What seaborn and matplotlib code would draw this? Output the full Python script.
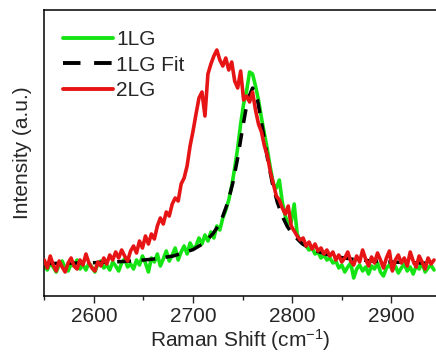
import numpy as np
import pandas as pd
import matplotlib
matplotlib.use("Agg")
import matplotlib.pyplot as plt
import seaborn as sns

# Raman shift grid (cm-1) for the measured spectra
shift = np.arange(2550, 2944, 3)

# 1LG measured intensity (a.u.)
lg1 = [30, 26, 33, 29, 24, 31, 35, 28, 25, 32,
       30, 36, 27, 31, 26, 33, 29, 24, 32, 35,
       28, 31, 26, 34, 30, 25, 33, 37, 29, 32,
       27,
       36, 31, 40, 33, 24, 38, 34, 42, 30, 37,
       45, 35, 41, 48, 36, 44, 50, 42, 53, 47,
       50, 58, 52, 61, 55, 64, 58, 70, 66, 78,
       86, 96, 110, 128, 148, 172, 192, 205, 224, 222,
       210, 196, 178, 162, 146, 128, 112, 108, 116, 94,
       80, 72, 74, 92, 62, 55, 52, 50, 46, 48,
       42, 44, 38, 41, 36, 38, 33, 35, 28, 31,
       24, 29, 33, 18, 27, 31, 25, 29, 22, 30,
       27, 33, 24, 20, 28, 31, 26, 30, 23, 28,
       32, 25, 29, 22, 30, 27, 33, 24, 28, 31,
       26]

# 2LG measured intensity (a.u.)
lg2 = [36, 28, 40, 31, 25, 35, 29, 24, 33, 38,
       30, 27, 36, 31, 42, 33, 28, 25, 34, 30,
       38,
       32, 41, 36, 44, 38, 46, 40, 35, 45, 50,
       43, 55, 48, 60, 52, 62, 57, 70, 78, 72,
       84, 80, 92, 98, 95, 112, 118, 130, 150, 165,
       182, 198, 204, 180, 222, 232, 240, 246, 236, 230,
       238, 226, 234, 215, 208, 225, 196, 200, 194, 204,
       186, 172, 164, 150, 140, 124, 112, 100, 96, 88,
       82, 90, 70, 65, 60, 56, 58, 50, 54, 47,
       52, 45, 48, 42, 46, 40, 44, 36, 41, 34,
       38, 44, 35, 31, 40, 34, 46, 37, 30, 39,
       33, 43, 36, 28, 38, 45, 25, 36, 41, 33,
       38, 30, 44, 35, 29, 40, 34, 27, 38, 32,
       36]

# 1LG fit curve
fit_shift = [2550, 2580, 2600, 2620, 2640, 2660, 2680, 2700, 2710, 2720,
             2725, 2730, 2735, 2740, 2745, 2750, 2755, 2760, 2765, 2770,
             2775, 2780, 2785, 2790, 2795, 2800, 2810, 2820, 2840, 2860,
             2880, 2900, 2920, 2945]
fit_int = [32.4, 32.9, 33.3, 34.0, 35.1, 36.9, 40.0, 46.4, 52.3, 62.2,
           69.6, 79.8, 93.6, 112.6, 137.8, 168.0, 196.0, 208.0, 196.0, 168.0,
           137.8, 112.6, 93.6, 79.8, 69.6, 62.2, 52.3, 46.4, 40.0, 36.9,
           35.1, 34.0, 33.3, 32.5]

xticks = [2600, 2700, 2800, 2900]

sns.set_style("ticks")
plt.rcParams["font.family"] = ["Liberation Sans", "DejaVu Sans"]
plt.rcParams["mathtext.default"] = "regular"

fig = plt.figure(figsize=(4.36, 3.54), dpi=100)
ax = fig.add_axes([44.3 / 436, (354 - 296) / 354, (436 - 44.3) / 436, (296 - 10) / 354])

df1 = pd.DataFrame({"x": shift, "y": lg1})
df2 = pd.DataFrame({"x": shift, "y": lg2})
dff = pd.DataFrame({"x": fit_shift, "y": fit_int})

green = "#14E414"
red = "#E61414"
sns.lineplot(data=df1, x="x", y="y", ax=ax, color=green, lw=2.6, label="1LG",
             sort=False, estimator=None, zorder=2)
sns.lineplot(data=dff, x="x", y="y", ax=ax, color="black", lw=2.5, label="1LG Fit",
             sort=False, estimator=None, zorder=3, dashes=False)
ax.lines[-1].set_dashes((4.0, 3.0))
sns.lineplot(data=df2, x="x", y="y", ax=ax, color=red, lw=2.6, label="2LG",
             sort=False, estimator=None, zorder=4)

ax.set_xlim(2550, 2945)
ax.set_ylim(0, 286)
ax.set_xticks(xticks)
ax.set_xticks([2550, 2650, 2750, 2850], minor=True)
ax.set_yticks([])
ax.tick_params(axis="x", which="major", direction="out", length=5, width=1, labelsize=15, pad=3)
ax.tick_params(axis="x", which="minor", direction="out", length=3, width=1)
for s in ["left", "bottom", "top"]:
    ax.spines[s].set_linewidth(1.1)
    ax.spines[s].set_color("black")
ax.spines["right"].set_visible(False)

ax.set_xlabel("Raman Shift (cm$^{-1}$)", fontsize=15, labelpad=0.5)
ax.set_ylabel("Intensity (a.u.)", fontsize=15, labelpad=9)

handles, labels = ax.get_legend_handles_labels()
leg = ax.legend(handles, labels, loc="upper left", bbox_to_anchor=(0.01, 0.98),
                frameon=False, fontsize=15, handlelength=2.4, handletextpad=0.15,
                labelspacing=0.3, borderaxespad=0.3)
for h in leg.get_lines():
    h.set_linewidth(2.8)
leg.get_lines()[1].set_dashes((4.5, 3.5))

fig.savefig("out.png", dpi=100)
